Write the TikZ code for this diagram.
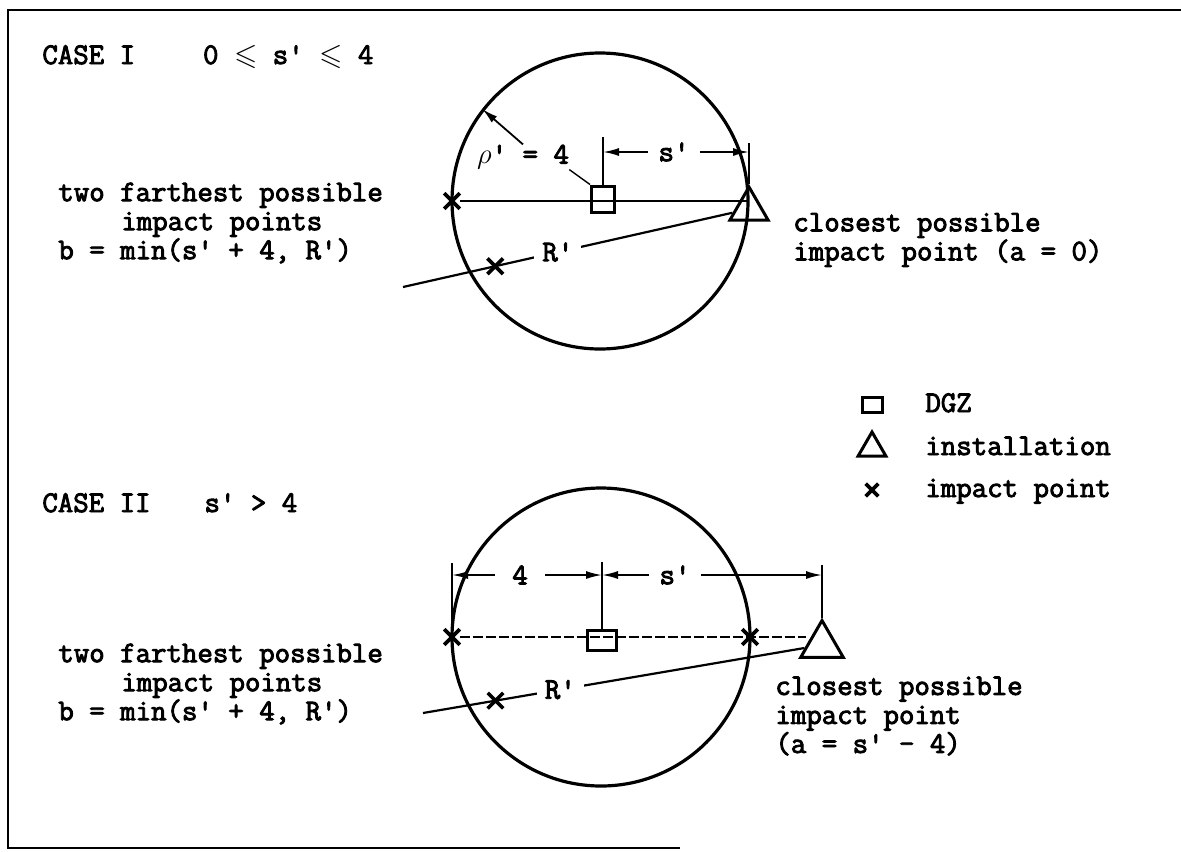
\documentclass[tikz,border=0pt]{standalone}
\usepackage{amssymb}
\usepackage{fontspec}
\setmonofont{Latin Modern Mono}[AutoFakeBold=3]
\usepackage{tikz}
\usetikzlibrary{shapes.geometric, shapes.misc, arrows.meta, positioning}

\begin{document}
\begin{tikzpicture}[
    x=0.5pt, y=-0.5pt,
    lbl/.style={font=\fontsize{15}{14.5}\selectfont\ttfamily\bfseries, inner sep=0pt, align=left},
    dimlbl/.style={lbl, inner xsep=5pt},
    rlbl/.style={lbl, fill=white, inner xsep=4pt, inner ysep=1pt},
    rim/.style={circle, draw, line width=1.6pt, inner sep=0pt},
    dgz/.style={rectangle, draw, line width=1.5pt, inner sep=0pt},
    inst/.style={regular polygon, regular polygon sides=3, draw, line width=1.5pt, inner sep=0pt},
    imp/.style={cross out, draw, line width=1.8pt, minimum size=6pt, inner sep=0pt},
    line/.style={draw, line width=1.1pt},
    tickline/.style={draw, line width=0.7pt},
    dimarrow/.style={draw, line width=0.9pt, -{Latex[length=8pt, width=4pt]}},
    boxline/.style={draw, line width=1.2pt}
]
    \useasboundingbox (0,0) rectangle (1181,851);
    \path[boxline] (1181,10) -- (8,10) -- (8,848) -- (680,848);

    % Case I
    \node[lbl, anchor=base west] (case1) at (42,64) {CASE I\hspace{34pt}0 $\leqslant$ s' $\leqslant$ 4};
    \node[rim, minimum size=148pt] (c1) at (600,201) {};
    \node[dgz, minimum width=11.5pt, minimum height=13pt] (dgz1) at (603,199) {};
    \node[inst, minimum size=22pt] (tri1) at (749,209) {};
    \node[imp] (x1a) at (452,201) {};
    \coordinate (t1a) at (603,137);
    \coordinate (t1b) at (749,143);
    \coordinate (r1) at (403,287);
    \node[dimlbl] (s1) at (674,152) {s'};
    \node[lbl] (rho1) at (523,157) {$\rho$' = 4};
    \node[lbl, anchor=west] (far1) at (58,223) {two farthest possible\\\hspace*{31.5pt}impact points\\b = min(s' + 4, R')};
    \node[lbl, anchor=west] (near1) at (793,240) {closest possible\\impact point (a = 0)};

    \path[line] (x1a) -- (x1a -| tri1);
    \path[tickline] (dgz1) -- (t1a);
    \path[tickline] (t1b) -- (tri1.north);
    \path[dimarrow] (s1.west) -- (s1.west -| t1a);
    \path[dimarrow] (s1.east) -- (s1.east -| t1b);
    \path[dimarrow] (rho1.north) -- (c1.142);
    \path[tickline] (rho1.south east) -- (dgz1.north west);
    \path[line] (r1) -- node[imp, pos=.28] (x1b) {} node[rlbl, pos=.47] (rp1) {R'} (tri1);

    % Legend
    \node[dgz, minimum width=10pt, minimum height=7.5pt] (dgzL) at (872,405) {};
    \node[inst, minimum size=16pt, below of=dgzL, node distance=21.5pt] (instL) {};
    \node[imp, minimum size=4.5pt, below of=instL, node distance=21pt] (impL) {};
    \node[lbl, anchor=base west] (dgzT) at (925,412) {DGZ};
    \node[lbl, anchor=base west] (instT) at (925,455) {installation};
    \node[lbl, anchor=base west] (impT) at (925,497) {impact point};

    % Case II
    \node[lbl, anchor=base west] (case2) at (42,512) {CASE II\hspace{27pt}s' > 4};
    \node[rim, minimum size=149pt] (c2) at (601,637) {};
    \node[dgz, minimum width=14.5pt, minimum height=10pt] (dgz2) at (602,640) {};
    \node[inst, minimum size=24.5pt] (tri2) at (822,645) {};
    \node[imp] (x2a) at (452,637) {};
    \node[imp] (x2c) at (750,637) {};
    \coordinate (t2a) at (452,563);
    \coordinate (t2b) at (602,562);
    \coordinate (t2c) at (822,565);
    \coordinate (r2) at (423,713);
    \node[lbl, inner xsep=8.5pt] (d2a) at (520,575) {4};
    \node[dimlbl] (d2b) at (675,575) {s'};
    \node[lbl, anchor=west] (far2) at (58,684) {two farthest possible\\\hspace*{31.5pt}impact points\\b = min(s' + 4, R')};
    \node[lbl, anchor=west] (near2) at (775,716) {closest possible\\impact point\\(a = s' - 4)};

    \path[line, dash pattern=on 5pt off 1.5pt] (x2a) -- (x2a -| tri2.west);
    \path[tickline] (t2a) -- (x2a);
    \path[tickline] (t2b) -- (dgz2);
    \path[tickline] (t2c) -- (tri2.north);
    \path[dimarrow] (d2a.west) -- (d2a.west -| t2a);
    \path[dimarrow] (d2a.east) -- (d2a.east -| t2b);
    \path[dimarrow] (d2b.west) -- (d2b.west -| t2b);
    \path[dimarrow] (d2b.east) -- (d2b.east -| t2c);
    \path[line] (r2) -- node[imp, pos=.19] (x2b) {} node[rlbl, pos=.36] (rp2) {R'} (tri2);
\end{tikzpicture}
\end{document}
